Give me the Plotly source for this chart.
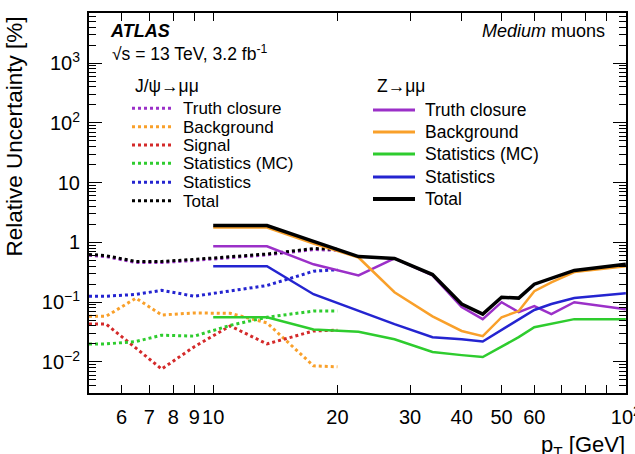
import plotly.graph_objects as go

# ---------------- data ----------------
jpsi_pt = [5.0, 5.5, 6.5, 7.5, 9.0, 11.0, 13.5, 17.5, 20.0]
jpsi_truth = [0.61, 0.58, 0.46, 0.46, 0.50, 0.55, 0.62, 0.76, 0.74]
jpsi_background = [0.058, 0.058, 0.117, 0.061, 0.066, 0.065, 0.045, 0.0086, 0.0083]
jpsi_signal = [0.043, 0.043, 0.017, 0.0076, 0.018, 0.040, 0.020, 0.033, 0.034]
jpsi_stat_mc = [0.020, 0.020, 0.022, 0.028, 0.027, 0.041, 0.056, 0.071, 0.071]
jpsi_stat = [0.126, 0.126, 0.135, 0.158, 0.126, 0.155, 0.19, 0.33, 0.35]
jpsi_total = [0.63, 0.60, 0.48, 0.48, 0.52, 0.57, 0.64, 0.79, 0.77]

z_pt = [10, 13.5, 17.5, 22.5, 27.5, 34, 40, 45, 50, 55, 60, 66, 75, 100]
z_truth = [0.86, 0.86, 0.43, 0.28, 0.54, 0.28, 0.083, 0.052, 0.10, 0.068, 0.086, 0.063, 0.10, 0.076]
z_background = [1.78, 1.78, 0.96, 0.56, 0.147, 0.058, 0.033, 0.027, 0.056, 0.071, 0.153, 0.215, 0.32, 0.40]
z_stat_mc = [0.056, 0.056, 0.035, 0.032, 0.024, 0.0147, 0.013, 0.0121, 0.018, 0.026, 0.038, 0.043, 0.052, 0.052]
z_stat = [0.40, 0.40, 0.136, 0.071, 0.043, 0.026, 0.024, 0.022, 0.034, 0.050, 0.074, 0.093, 0.117, 0.141]
z_total = [1.92, 1.92, 1.04, 0.58, 0.54, 0.29, 0.093, 0.063, 0.121, 0.117, 0.20, 0.25, 0.34, 0.43]

x_tickvals = [6, 7, 8, 9, 10, 20, 30, 40, 50, 60, 70, 80, 90, 100]
x_ticktext = ["6", "7", "8", "9", "10", "20", "30", "40", "50", "60", "", "", "", "10<sup>2</sup>"]
y_tickvals = [0.01, 0.1, 1, 10, 100, 1000]
y_ticktext = ["10<sup>\u22122</sup>", "10<sup>\u22121</sup>", "1", "10", "10<sup>2</sup>", "10<sup>3</sup>"]

# ---------------- style ----------------
C_PURPLE = "#9B30C8"
C_ORANGE = "#F9A02A"
C_RED = "#D42A2A"
C_GREEN = "#2ECC2E"
C_BLUE = "#2424D0"
C_BLACK = "#000000"
FONT = "Liberation Sans, Arial, sans-serif"

fig = go.Figure()

jpsi = [
    ("Truth closure", jpsi_truth, C_PURPLE),
    ("Background", jpsi_background, C_ORANGE),
    ("Signal", jpsi_signal, C_RED),
    ("Statistics (MC)", jpsi_stat_mc, C_GREEN),
    ("Statistics", jpsi_stat, C_BLUE),
    ("Total", jpsi_total, C_BLACK),
]
for name, vals, col in jpsi:
    fig.add_trace(go.Scatter(x=jpsi_pt, y=vals, mode="lines", name="J/psi " + name,
                             line=dict(color=col, width=3, dash="dot"), showlegend=False))

zs = [
    ("Truth closure", z_truth, C_PURPLE, 2.5),
    ("Background", z_background, C_ORANGE, 2.5),
    ("Statistics (MC)", z_stat_mc, C_GREEN, 2.5),
    ("Statistics", z_stat, C_BLUE, 2.5),
    ("Total", z_total, C_BLACK, 3.5),
]
for name, vals, col, w in zs:
    fig.add_trace(go.Scatter(x=z_pt, y=vals, mode="lines", name="Z " + name,
                             line=dict(color=col, width=w), showlegend=False))

# ---------------- layout ----------------
L, R, T, B = 89, 626, 13, 393
W, H = 635, 454
PW, PH = R - L, B - T

def px(x):
    return (x - L) / PW

def py(y):
    return 1 - (y - T) / PH

y_minor = []
for e in range(-3, 4):
    for m in range(2, 10):
        v = m * 10 ** e
        if 0.003 <= v <= 7000:
            y_minor.append(v)

fig.update_layout(
    width=W, height=H,
    margin=dict(l=L, r=W - R, t=T, b=H - B, pad=0, autoexpand=False),
    paper_bgcolor="white", plot_bgcolor="white",
    font=dict(family=FONT, color="black", size=20),
    showlegend=False,
    xaxis=dict(
        type="log", range=[0.69897, 2.0004], automargin=False,
        tickmode="array", tickvals=x_tickvals, ticktext=x_ticktext,
        ticks="inside", ticklen=8, tickwidth=1, tickcolor="black",
        showline=True, linewidth=2, linecolor="black", mirror="allticks",
        showgrid=False, zeroline=False, tickangle=0,
        tickfont=dict(size=20, family=FONT), ticklabelstandoff=5,
        ticklabeloverflow="allow",
    ),
    yaxis=dict(
        type="log", range=[-2.52, 3.84], automargin=False,
        tickmode="array", tickvals=y_tickvals, ticktext=y_ticktext,
        ticks="inside", ticklen=13, tickwidth=1, tickcolor="black",
        showline=True, linewidth=2, linecolor="black", mirror="allticks",
        showgrid=False, zeroline=False,
        tickfont=dict(size=20, family=FONT), ticklabelstandoff=3,
        minor=dict(tickvals=y_minor, ticks="inside", ticklen=7, tickwidth=1,
                   tickcolor="black", showgrid=False),
    ),
)

ann = []
shapes = []

def text(x, y, s, size=17.5, xanchor="left", yanchor="middle", angle=0, height=None):
    d = dict(xref="paper", yref="paper", x=px(x), y=py(y), text=s,
             showarrow=False, xanchor=xanchor, yanchor=yanchor, borderpad=0,
             textangle=angle, font=dict(size=size, family=FONT, color="black"))
    if height is not None:
        d["height"] = height
        d["valign"] = "middle"
    ann.append(d)

# axis titles
text(13.5, 137, "Relative Uncertainty [%]", size=22.5, xanchor="center", yanchor="middle", angle=-90)
text(626, 446, "p<sub>T</sub> [GeV]", size=22, xanchor="right", yanchor="middle")

# header texts
text(109, 31, "<b><i>ATLAS</i></b>", size=18)
text(111, 53, "\u221as = 13 TeV, 3.2 fb<sup>-1</sup>", size=17.5)
text(606, 31, "<i>Medium</i> muons", size=18, xanchor="right")

# J/psi legend
text(134, 86, "J/\u03c8\u2192\u03bc\u03bc", size=17.5)
jrows = [108.3, 126.7, 145, 163.3, 182.3, 200.7]
for (name, vals, col), yy in zip(jpsi, jrows):
    shapes.append(dict(type="line", xref="paper", yref="paper", x0=px(132), x1=px(172),
                       y0=py(yy), y1=py(yy), line=dict(color=col, width=3, dash="dot")))
    text(182, yy, name, size=17, height=18)

# Z legend
text(376, 86, "Z\u2192\u03bc\u03bc", size=17.5)
zrows = [110, 132, 154, 177, 199]
for (name, vals, col, w), yy in zip(zs, zrows):
    shapes.append(dict(type="line", xref="paper", yref="paper", x0=px(373), x1=px(415),
                       y0=py(yy), y1=py(yy), line=dict(color=col, width=w + 0.5)))
    text(424, yy, name, size=17.5, height=20)

fig.update_layout(annotations=ann, shapes=shapes)
fig.write_html("out.html")
